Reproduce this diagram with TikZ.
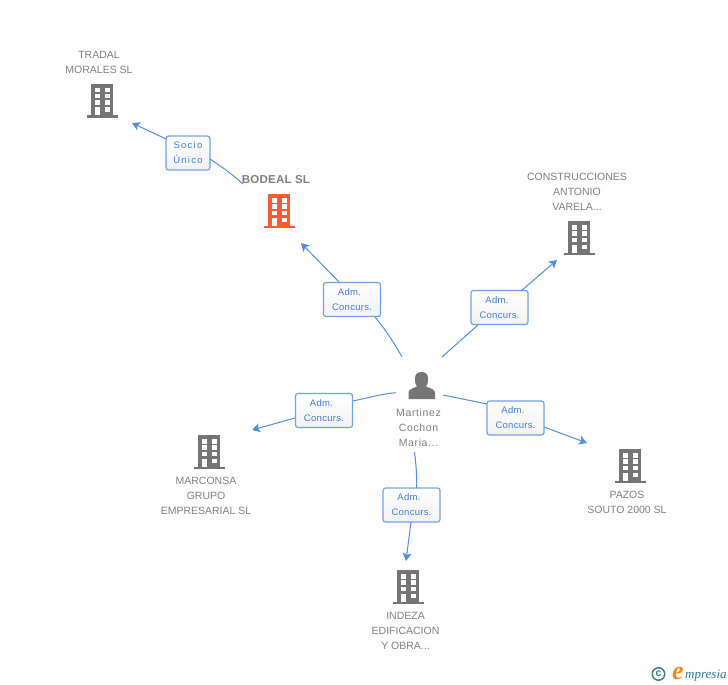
\documentclass[tikz,border=0pt]{standalone}
\usepackage{fontspec}
\setmainfont{Liberation Sans}
\newfontfamily\spaced[LetterSpace=0]{Liberation Sans}
\newfontfamily\spacedp[LetterSpace=6]{Liberation Sans}
\newfontfamily\spacedb[LetterSpace=3]{Liberation Sans}
\newfontfamily\spacedc[LetterSpace=13]{Liberation Sans}
\newfontfamily\spacedt[LetterSpace=2]{Liberation Sans}
\newfontfamily\logofont{Liberation Serif}
\usetikzlibrary{arrows.meta}
\definecolor{grayicon}{HTML}{757575}
\definecolor{graytext}{HTML}{808080}
\definecolor{redicon}{HTML}{FF5A30}
\definecolor{linkblue}{HTML}{4F8FE8}
\definecolor{boxblue}{HTML}{6FA3EC}
\definecolor{labelblue}{HTML}{3B7FE0}
\definecolor{logoteal}{HTML}{2F7F8F}
\definecolor{logoorange}{HTML}{F28A1E}
\tikzset{
  link/.style={draw=linkblue,line width=1pt},
  arrowlink/.style={link,-{Stealth[length=8pt,width=9pt,inset=2pt]}},
  relbox/.style={draw=boxblue,line width=1.2pt,rounded corners=2.5pt,top color=white,bottom color=white!95!black,
    minimum width=57pt,minimum height=34pt,inner sep=0pt,align=center,font=\spacedb\fontsize{9.5}{15}\selectfont,text=labelblue},
  entname/.style={align=center,font=\spaced\fontsize{10.5}{15}\selectfont,text=graytext,inner sep=0pt},
  pics/building/.style={code={
    \fill[#1] (-11,-17) rectangle (11,15);
    \fill[#1] (-15.5,14.5) rectangle (15.5,17);
    \foreach \yy in {-13,-6.7,-0.2}{
      \fill[white] (-7,\yy) rectangle ++(5,4.5);
      \fill[white] (2.7,\yy) rectangle ++(5,4.5);
    }
    \fill[white] (2.7,6.7) rectangle ++(5,4.6);
    \fill[white] (-7,6.7) rectangle (-2,14.5);
  }}
}
\begin{document}
\begin{tikzpicture}[x=1pt,y=-1pt]
\useasboundingbox[fill=white] (0,0) rectangle (728,685);

% relation boxes
\node[relbox,minimum width=44pt,font=\spacedc\fontsize{9.5}{15}\selectfont] (socio) at (188,153) {Socio\\Único};
\node[relbox] (admA) at (352,299.5) {Adm.\hspace*{5pt}\\Concurs.};
\node[relbox] (admB) at (499.5,307.5) {Adm.\hspace*{5pt}\\Concurs.};
\node[relbox] (admC) at (324,410.5) {Adm.\hspace*{5pt}\\Concurs.};
\node[relbox] (admD) at (515.5,418) {Adm.\hspace*{5pt}\\Concurs.};
\node[relbox] (admE) at (411.5,505) {Adm.\hspace*{5pt}\\Concurs.};

% free ends
\coordinate (s0) at (243,184);
\coordinate (s1) at (132,123);
\coordinate (a0) at (402,357);
\coordinate (a1) at (301,243);
\coordinate (b0) at (442,357);
\coordinate (b1) at (557,260);
\coordinate (c0) at (396,392.7);
\coordinate (c1) at (252,430);
\coordinate (d0) at (443,395);
\coordinate (d1) at (587,443);
\coordinate (e0) at (414.5,452);
\coordinate (e1) at (406,561);

% connectors
\draw[link] (s0) .. controls (232,174) and (222,167) .. (210,159);
\draw[arrowlink] (166,139) -- (s1);
\draw[link] (a0) .. controls (393,341) and (385,329) .. (375,317);
\draw[arrowlink] (339,282) -- (a1);
\draw[link] (b0) -- (478,325);
\draw[arrowlink] (521,291) -- (b1);
\draw[link] (c0) .. controls (381,394) and (367,398) .. (353,401);
\draw[arrowlink] (295,418) -- (c1);
\draw[link] (d0) -- (487,404);
\draw[arrowlink] (544,427) -- (d1);
\draw[link] (e0) .. controls (416,464) and (417,476) .. (416.7,488);
\draw[arrowlink] (411,522) -- (e1);

% entities
\pic at (102,100.5) {building=grayicon};
\node[entname] (tradal) at (99,62.5) {TRADAL\\MORALES SL};

\pic at (279,211) {building=redicon};
\node[inner sep=0pt,font=\spacedt\bfseries\fontsize{11.5}{13}\selectfont,text=graytext] (bodeal) at (276,180) {BODEAL SL};

\pic at (579,238) {building=grayicon};
\node[entname] (constr) at (577,192) {CONSTRUCCIONES\\ANTONIO\\VARELA...};

\pic at (209,452) {building=grayicon};
\node[entname] (marconsa) at (206,496) {MARCONSA\\GRUPO\\EMPRESARIAL SL};

\pic at (630,466) {building=grayicon};
\node[entname] (pazos) at (627,502.5) {PAZOS\\SOUTO 2000 SL};

\pic at (408,587) {building=grayicon};
\node[entname] (indeza) at (405.5,631) {INDEZA\\EDIFICACION\\Y OBRA...};

% person
\fill[grayicon] (408.5,399) -- (408.5,393) .. controls (408.5,389.5) and (412,388.5) .. (417,386.5)
  .. controls (414.5,383) and (415,380) .. (415,378) .. controls (415,374) and (418,372) .. (421.5,372)
  .. controls (425,372) and (428,374) .. (428,378) .. controls (428,380) and (428.5,383) .. (426,386.5)
  .. controls (431,388.5) and (435,389.5) .. (435,393) -- (435,399) -- cycle;
\node[entname,font=\spacedp\fontsize{10.5}{15}\selectfont] (person) at (418.5,428) {Martinez\\Cochon\\Maria...};

% logo
\node[circle,draw=logoteal,line width=1.4pt,minimum size=12.5pt,inner sep=0pt,text=logoteal,font=\fontsize{10.5}{10}\bfseries\selectfont] (copy) at (658.5,674) {c};
\node[inner sep=0pt,anchor=base,text=logoorange,font=\logofont\itshape\bfseries\fontsize{26}{26}\selectfont] (logoe) at (678,679) {e};
\node[inner sep=0pt,anchor=base west,text=logoteal,font=\logofont\itshape\fontsize{13}{14}\selectfont] (logot) at (685,678) {mpresia};
\end{tikzpicture}
\end{document}
